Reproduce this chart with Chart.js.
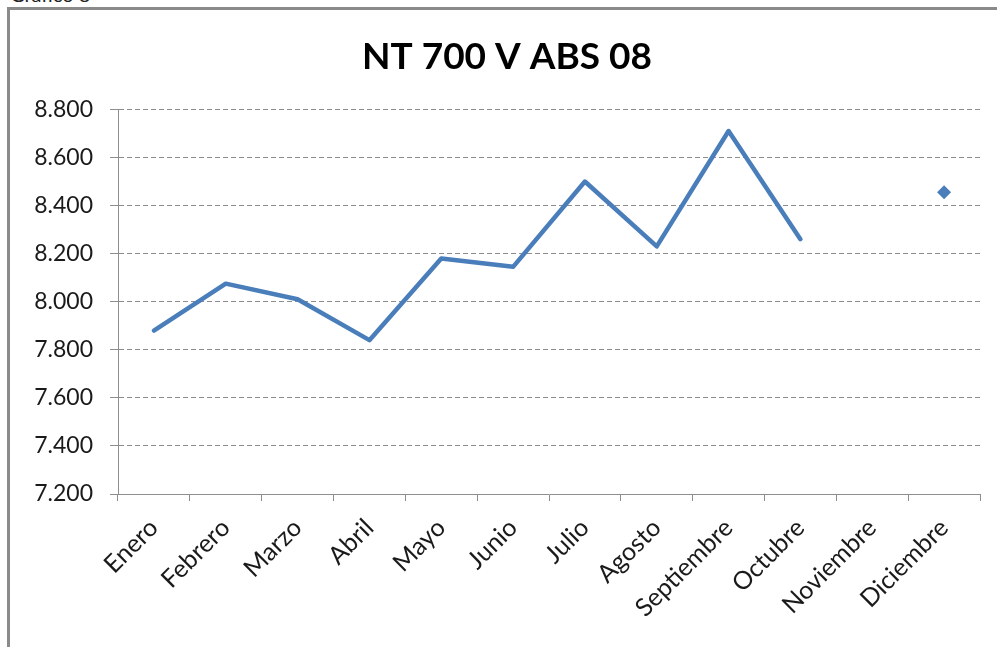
<!DOCTYPE html>
<html>
<head>
<meta charset="utf-8">
<title>NT 700 V ABS 08</title>
<script src="https://cdn.jsdelivr.net/npm/chart.js@4/dist/chart.umd.min.js"></script>
<style>
  html, body { margin: 0; padding: 0; background: #fff; overflow: hidden; }
  #caption { position: absolute; left: 10px; top: -18px; font: 20px Lato, sans-serif; color: #222; }
  #frame { position: absolute; left: 7px; top: 7px; width: 1100px; height: 800px;
           border-top: 3px solid #8a8a8a; border-left: 3px solid #8a8a8a; }
  #wrap { position: absolute; left: 0; top: 0; width: 997px; height: 647px; }
</style>
</head>
<body>
<div id="caption">Gráfico 8</div>
<div id="frame"></div>
<div id="wrap"><canvas id="chart"></canvas></div>
<script>
const TITLE = "NT 700 V ABS 08";
const months = ["Enero", "Febrero", "Marzo", "Abril", "Mayo", "Junio", "Julio",
  "Agosto", "Septiembre", "Octubre", "Noviembre", "Diciembre"];
const values = [7880, 8075, 8010, 7840, 8180, 8145, 8500, 8230, 8710, 8260, null, 8455];
const yTicks = [7200, 7400, 7600, 7800, 8000, 8200, 8400, 8600, 8800];

const BLUE = "#4a7ebb";
const GREY = "#8e8e8e";
const FONT = "Lato, 'Open Sans', sans-serif";

// 8800 -> "8.800"
function fmt(v) {
  return Math.floor(v / 1000) + "." + String(v % 1000).padStart(3, "0");
}

// only show a marker when the point has no neighbour to draw a line to
function isolated(ctx) {
  const d = ctx.dataset.data;
  const i = ctx.dataIndex;
  return d[i] != null && d[i - 1] == null && d[i + 1] == null;
}

new Chart(document.getElementById("chart"), {
  type: "line",
  data: {
    labels: months,
    datasets: [{
      data: values,
      borderColor: BLUE,
      backgroundColor: BLUE,
      borderWidth: 4.5,
      borderCapStyle: "round",
      borderJoinStyle: "round",
      tension: 0,
      spanGaps: false,
      pointStyle: "rectRot",
      pointRadius: ctx => isolated(ctx) ? 7 : 0,
      pointHoverRadius: ctx => isolated(ctx) ? 7 : 0,
      pointBorderWidth: 0,
      pointBackgroundColor: BLUE
    }]
  },
  options: {
    responsive: true,
    maintainAspectRatio: false,
    animation: false,
    events: [],
    layout: { padding: { left: 34, top: 14, right: 17, bottom: 0 } },
    plugins: {
      legend: { display: false },
      tooltip: { enabled: false },
      title: {
        display: true,
        text: TITLE,
        color: "#000",
        font: { family: FONT, size: 37, weight: "bold" },
        padding: { top: 21, bottom: 30 }
      }
    },
    scales: {
      x: {
        offset: true,
        afterFit: s => { s.height = 153; },
        border: { display: true, color: GREY, width: 1 },
        grid: { offset: true, drawOnChartArea: false, drawTicks: true, tickLength: 7, color: GREY },
        ticks: {
          color: "#1a1a1a",
          font: { family: FONT, size: 25 },
          minRotation: 45,
          maxRotation: 45,
          autoSkip: false,
          padding: 12
        }
      },
      y: {
        min: 7200,
        max: 8800,
        afterFit: s => { s.width = 84; },
        afterBuildTicks: s => { s.ticks = yTicks.map(v => ({ value: v })); },
        border: { display: true, color: GREY, width: 1, dash: [5, 3] },
        grid: { color: GREY, lineWidth: 1, drawTicks: true, tickLength: 8, tickColor: GREY },
        ticks: {
          color: "#1a1a1a",
          font: { family: FONT, size: 23 },
          padding: 17,
          callback: v => fmt(v)
        }
      }
    }
  }
});
</script>
</body>
</html>
